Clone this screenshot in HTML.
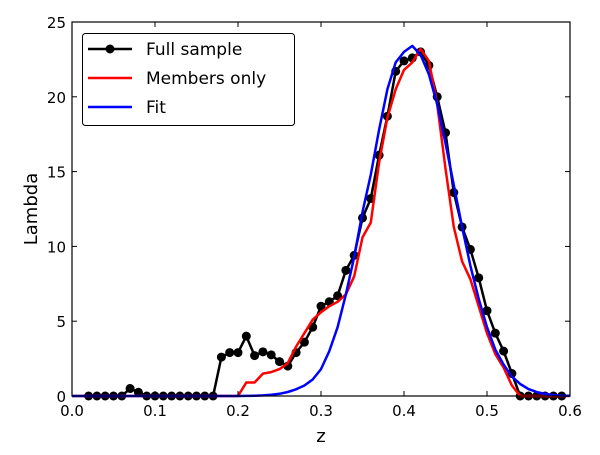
<!DOCTYPE html>
<html><head><meta charset="utf-8"><style>
html,body{margin:0;padding:0;background:#fff;}
svg text{font-family:"DejaVu Sans","Liberation Sans",sans-serif;}
</style></head><body>
<svg id="chart" width="600" height="450" xmlns="http://www.w3.org/2000/svg">
<rect width="600" height="450" fill="#fff"/>
<g id="marks"></g>
<g id="axes"></g>
</svg>
<script>
const fullZ=[0.02,0.03,0.04,0.05,0.06,0.07,0.08,0.09,0.10,0.11,0.12,0.13,0.14,0.15,0.16,0.17,0.18,0.19,0.20,0.21,0.22,0.23,0.24,0.25,0.26,0.27,0.28,0.29,0.30,0.31,0.32,0.33,0.34,0.35,0.36,0.37,0.38,0.39,0.40,0.41,0.42,0.43,0.44,0.45,0.46,0.47,0.48,0.49,0.50,0.51,0.52,0.53,0.54,0.55,0.56,0.57,0.58,0.59];
const fullVals=[0,0,0,0,0,0.5,0.25,0,0,0,0,0,0,0,0,0,2.6,2.9,2.9,4.0,2.7,2.95,2.75,2.3,2.0,2.9,3.6,4.6,6.0,6.3,6.7,8.4,9.4,11.9,13.2,16.1,18.7,21.7,22.4,22.6,23.0,22.1,20.0,17.6,13.6,11.3,9.8,7.9,5.7,4.2,3.0,1.5,0,0,0,0,0,0];
const memZ=[0.0,0.20,0.21,0.22,0.23,0.24,0.25,0.26,0.27,0.28,0.29,0.30,0.31,0.32,0.33,0.34,0.35,0.36,0.37,0.38,0.39,0.40,0.41,0.42,0.43,0.44,0.45,0.46,0.47,0.48,0.49,0.50,0.51,0.52,0.53,0.54,0.60];
const memVals=[0,0,0.9,0.9,1.5,1.6,1.8,2.2,3.3,4.2,5.1,5.6,6.0,6.3,6.8,8.0,10.6,11.6,15.6,18.6,20.5,21.8,22.3,23.2,22.4,19.5,15.2,11.3,9.0,7.8,6.0,4.2,2.8,1.9,0.7,0,0];
const fitZ=[0.0,0.20,0.21,0.22,0.23,0.24,0.25,0.26,0.27,0.28,0.29,0.30,0.31,0.32,0.33,0.34,0.35,0.36,0.37,0.38,0.39,0.40,0.41,0.42,0.43,0.44,0.45,0.46,0.47,0.48,0.49,0.50,0.51,0.52,0.53,0.54,0.55,0.56,0.57,0.58,0.59,0.60];
const fitVals=[0,0,0.01,0.02,0.04,0.08,0.15,0.27,0.45,0.7,1.1,1.8,3.0,4.6,6.8,9.3,12.3,14.8,17.8,20.5,22.3,23.0,23.4,22.8,21.5,19.5,16.9,14.1,11.3,8.7,6.5,4.6,3.1,2.1,1.3,0.8,0.46,0.26,0.14,0.07,0.03,0.015];
const xTicks=["0.0","0.1","0.2","0.3","0.4","0.5","0.6"];
const yTicks=["0","5","10","15","20","25"];

const L=72,R=570,T=22,B=396,XMAX=0.6,YMAX=25;
const sx=v=>L+(v/XMAX)*(R-L);
const sy=v=>B-(v/YMAX)*(B-T);
const NS="http://www.w3.org/2000/svg";
const marks=document.getElementById('marks'),axes=document.getElementById('axes');
function mk(tag,attrs,parent){const e=document.createElementNS(NS,tag);for(const k in attrs)e.setAttribute(k,attrs[k]);parent.appendChild(e);return e;}
function pts(zs,vs){return zs.map((z,i)=>sx(z).toFixed(1)+','+sy(vs[i]).toFixed(1)).join(' ');}

let p=mk('polyline',{points:pts(fullZ,fullVals),fill:'none',stroke:'#000','stroke-width':2.5,'stroke-linejoin':'round'},marks);


fullZ.forEach((z,i)=>{const c=mk('circle',{cx:sx(z),cy:sy(fullVals[i]),r:4.5,fill:'#000'},marks);

});
p=mk('polyline',{points:pts(memZ,memVals),fill:'none',stroke:'#ff0000','stroke-width':2.5,'stroke-linejoin':'round'},marks);


p=mk('polyline',{points:pts(fitZ,fitVals),fill:'none',stroke:'#0000ff','stroke-width':2.5,'stroke-linejoin':'round'},marks);



let f=mk('rect',{x:L,y:T,width:R-L,height:B-T,fill:'none',stroke:'#000','stroke-width':1.2},axes);


xTicks.forEach(t=>{const x=sx(parseFloat(t));
mk('line',{x1:x,x2:x,y1:B,y2:B-5,stroke:'#000'},axes);mk('line',{x1:x,x2:x,y1:T,y2:T+5,stroke:'#000'},axes);
const tx=mk('text',{x:x,y:B+20,'font-size':15,'text-anchor':'middle'},axes);tx.textContent=t;

});
yTicks.forEach(t=>{const y=sy(parseFloat(t));
mk('line',{x1:L,x2:L+5,y1:y,y2:y,stroke:'#000'},axes);mk('line',{x1:R,x2:R-5,y1:y,y2:y,stroke:'#000'},axes);
const tx=mk('text',{x:L-6,y:y+6,'font-size':15,'text-anchor':'end'},axes);tx.textContent=t;

});
let xt=mk('text',{x:321,y:442,'font-size':18,'text-anchor':'middle'},axes);xt.textContent='z';


let yt=mk('text',{x:37,y:209,'font-size':18,'text-anchor':'middle',transform:'rotate(-90 37 209)'},axes);yt.textContent='Lambda';



const lg=mk('g',{},axes);


mk('rect',{x:82.5,y:33.5,width:212,height:92,rx:3,fill:'#fff',stroke:'#000','stroke-width':1},lg);
const entries=[['Full sample','#000',true,49],['Members only','#ff0000',false,78],['Fit','#0000ff',false,107]];
entries.forEach(e=>{const g=mk('g',{},lg);


mk('line',{x1:88,x2:132,y1:e[3],y2:e[3],stroke:e[1],'stroke-width':2.5},g);
if(e[2])mk('circle',{cx:110,cy:e[3],r:4.5,fill:e[1]},g);
const t=mk('text',{x:146,y:e[3]+6,'font-size':17},g);t.textContent=e[0];});
</script>
</body></html>
